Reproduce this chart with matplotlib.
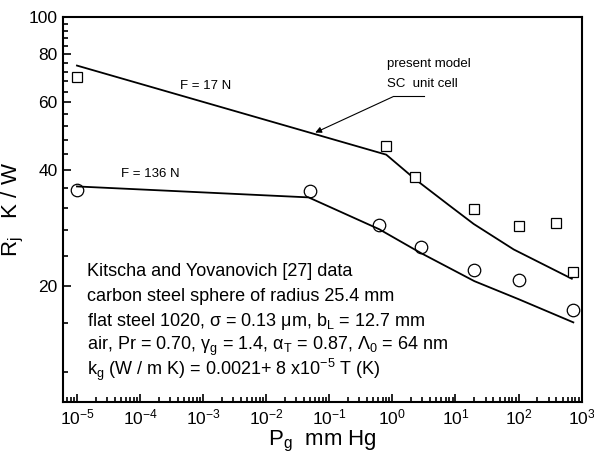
import numpy as np
import matplotlib
matplotlib.use("Agg")
import matplotlib.pyplot as plt
from matplotlib.ticker import FixedLocator, FixedFormatter, LogFormatterSciNotation, NullFormatter

plt.rcParams['font.family'] = ['Liberation Sans', 'DejaVu Sans']
plt.rcParams['mathtext.fontset'] = 'custom'
plt.rcParams['mathtext.rm'] = 'Liberation Sans'
plt.rcParams['mathtext.it'] = 'Liberation Sans:italic'
plt.rcParams['mathtext.sf'] = 'Liberation Sans'

# experimental data, Kitscha and Yovanovich
p_sq = [1e-5, 0.80, 2.3, 20, 100, 400, 740]
r_sq = [69.8, 46.1, 38.3, 31.7, 28.7, 29.2, 21.7]
p_ci = [1e-5, 0.05, 0.62, 2.8, 20, 100, 740]
r_ci = [35.6, 35.3, 28.9, 25.3, 22.0, 20.7, 17.3]

# present model, SC unit cell
p_m17 = [1e-5, 0.80, 2.3, 8.0, 19.5, 84, 700]
r_m17 = [74.8, 43.9, 37.9, 32.4, 29.0, 24.9, 20.9]
p_m136 = [1e-5, 0.047, 0.62, 2.8, 20, 100, 740]
r_m136 = [36.3, 34.0, 28.1, 24.4, 20.6, 18.5, 16.1]

x_major = [1e-5, 1e-4, 1e-3, 1e-2, 1e-1, 1e0, 1e1, 1e2, 1e3]
x_minor = [m * d for d in x_major[:-1] for m in range(2, 10)] + [6e-6, 7e-6, 8e-6, 9e-6]
y_major = [20, 40, 60, 80, 100]
y_minor = [12, 16, 24, 28, 32, 36, 44, 48, 52, 56, 64, 68, 72, 76, 84, 88, 92, 96]

info_lines = [
    "Kitscha and Yovanovich [27] data",
    "carbon steel sphere of radius 25.4 mm",
    "flat steel 1020, \u03c3 = 0.13 \u03bcm, b$_\\mathregular{L}$ = 12.7 mm",
    "air, Pr = 0.70, \u03b3$_\\mathregular{g}$ = 1.4, \u03b1$_\\mathregular{T}$ = 0.87, "
    "\u039b$_\\mathregular{0}$ = 64 nm",
    "k$_\\mathregular{g}$ (W / m K) = 0.0021+ 8 x10$^\\mathregular{-5}$ T (K)",
]

fig = plt.figure(figsize=(5.94, 4.55), dpi=100)
ax = fig.add_axes([0.106, 0.1165, 0.874, 0.8461])

ax.plot(p_m17, r_m17, color='black', lw=1.3)
ax.plot(p_m136, r_m136, color='black', lw=1.3)
ax.plot(p_sq, r_sq, ls='none', marker='s', ms=6.5, mfc='white', mec='black', mew=0.9)
ax.plot(p_ci, r_ci, ls='none', marker='o', ms=9, mfc='none', mec='black', mew=0.9)

ax.set_xscale('log')
ax.set_yscale('log')
ax.set_xlim(6e-6, 1.02e3)
ax.set_ylim(10, 100)

ax.yaxis.set_major_locator(FixedLocator(y_major))
ax.yaxis.set_minor_locator(FixedLocator(y_minor))
ax.yaxis.set_major_formatter(FixedFormatter([str(v) for v in y_major]))
ax.yaxis.set_minor_formatter(NullFormatter())
ax.xaxis.set_major_locator(FixedLocator(x_major))
ax.xaxis.set_minor_locator(FixedLocator(x_minor))
ax.xaxis.set_major_formatter(LogFormatterSciNotation())
ax.xaxis.set_minor_formatter(NullFormatter())

ax.tick_params(which='both', direction='in', top=False, right=False, width=1.2)
ax.tick_params(which='major', length=6, labelsize=12.5, pad=4)
ax.tick_params(which='minor', length=3.5)
for s in ax.spines.values():
    s.set_linewidth(1.5)

ax.set_xlabel("P$_\\mathregular{g}$  mm Hg", fontsize=16, labelpad=1)
ax.set_ylabel("R$_\\mathregular{j}$   K / W", fontsize=16, labelpad=2)

ax.text(1.1e-3, 66.2, "F = 17 N", fontsize=9.5, ha='center', va='center')
ax.text(1.45e-4, 39.0, "F = 136 N", fontsize=9.5, ha='center', va='center')
ax.text(0.82, 75.5, "present model", fontsize=9.5, ha='left', va='center')
ax.text(0.82, 67.0, "SC  unit cell", fontsize=9.5, ha='left', va='center')
ax.plot([1.05, 3.14], [62.2, 62.2], color='black', lw=0.8)
ax.annotate("", xy=(0.06, 50.1), xytext=(1.05, 62.2),
            arrowprops=dict(arrowstyle='-|>', lw=0.8, color='black',
                            mutation_scale=9, shrinkA=0, shrinkB=0))

ys = [0.326, 0.262, 0.197, 0.134, 0.070]
for line, yy in zip(info_lines, ys):
    ax.text(0.0457, yy, line, fontsize=13, transform=ax.transAxes,
            ha='left', va='baseline')

fig.savefig("out.png", dpi=100)
